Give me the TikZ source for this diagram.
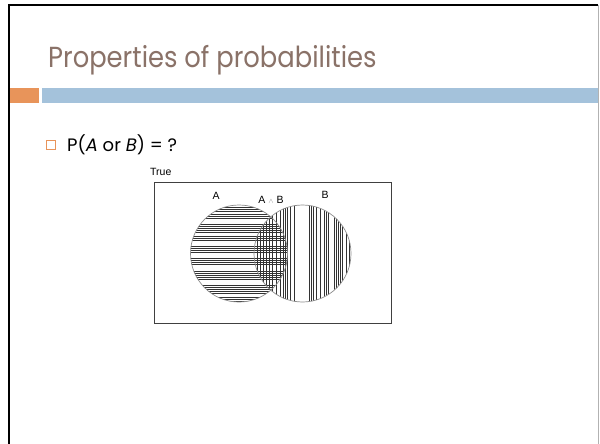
\documentclass[tikz,border=0pt]{standalone}
\usepackage{fontspec}
\setmainfont{Liberation Sans}
\newfontfamily\titlefont[FakeStretch=0.89]{Poppins}
\newfontfamily\bodyfont{Poppins}
\usepackage{xcolor}
\usetikzlibrary{positioning}
\definecolor{titlebrown}{RGB}{138,114,104}
\definecolor{barblue}{RGB}{164,194,219}
\definecolor{barorange}{RGB}{232,148,90}
\tikzset{
  slidetitle/.style={anchor=base west, inner sep=0pt, font=\titlefont\fontsize{29}{30}\selectfont, text=titlebrown},
  bullettext/.style={anchor=base west, inner sep=0pt, font=\bodyfont\fontsize{18}{19}\selectfont},
  bulletbox/.style ={draw=barorange, line width=0.8pt, minimum size=9pt, inner sep=0pt},
  vlabel/.style    ={anchor=base, inner sep=0pt, font=\fontsize{10.5}{11}\selectfont},
  setring/.style   ={draw=black!45, line width=0.7pt},
  hatch/.style     ={black!80, line width=0.4pt},
}

\begin{document}
\begin{tikzpicture}[x=1pt, y=-1pt]
  \useasboundingbox (0,0) rectangle (600,444);
  \fill[white] (0,0) rectangle (600,444);
  \draw[line width=2pt] (9,444) -- (9,5.5) -- (598,5.5);
  \draw[black!30, line width=1pt] (598.5,5.5) -- (598.5,444);
  \fill[barorange] (10,88) rectangle (39,103);
  \fill[barblue]   (42,88) rectangle (598,103);

  \node[slidetitle] (title) at (48,67) {Properties of probabilities};
  \node[bulletbox] (sq) at (51,145) {};
  \node[bullettext] (q) at (67,151) {P(\textit{A} or \textit{B}) = ?};

  \node[vlabel, anchor=base west] (true) at (150,175) {True};
  \draw[black!75, line width=1pt] (154,182) rectangle (391,323);

  \begin{scope}
    \clip (239,253.5) circle (48.5);
    \foreach \y in {207,209,211,214,216,218,224,226,228,230,232,236,238,240,
                    246,248,250,252,258,260,262,264,271,273,275,277,279,
                    285,287,289,291,293,297,299,301}
      \draw[hatch] (185,\y) -- (295,\y);
  \end{scope}
  \begin{scope}
    \clip (302.5,253.5) circle (48.5);
    \foreach \x in {257,260,263,266,269,272,276,280,283,285,287,290,294,
                    309,311,313,316,320,324,326,328,334,336,338,340,342,346,349}
      \draw[hatch] (\x,200) -- (\x,308);
  \end{scope}
  \draw[setring] (239,253.5) circle (48.5);
  \draw[setring] (302.5,253.5) circle (48.5);

  \node[vlabel] (la) at (216,199) {A};
  \node[vlabel] (lab) at (271,203) {A\hspace{3pt}{\color{black!45}\scriptsize$\wedge$}\hspace{3pt}B};
  \node[vlabel] (lb) at (325,198) {B};
\end{tikzpicture}
\end{document}
